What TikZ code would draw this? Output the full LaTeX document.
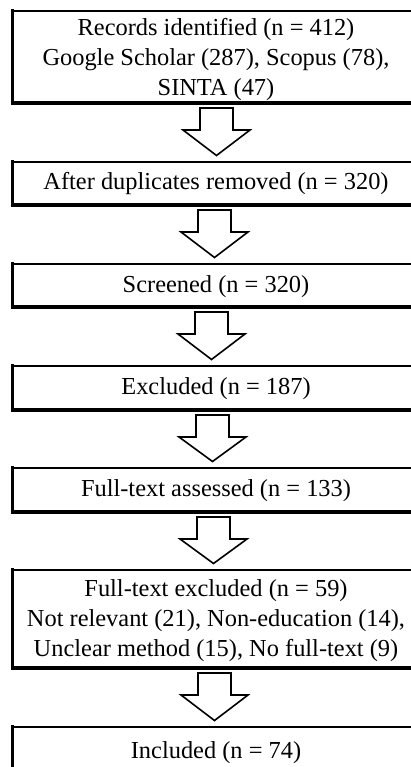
\documentclass[tikz,border=0pt]{standalone}
\usepackage{fontspec}
\setmainfont{Liberation Serif}
\usetikzlibrary{calc}

\tikzset{
  stagebox/.style={draw=black, line width=1.7pt, fill=white, rectangle,
    inner sep=0pt, outer sep=0pt, anchor=north west, minimum width=409pt},
  stagetext/.style={inner sep=0pt, anchor=base,
    font=\fontsize{24.4pt}{30pt}\selectfont},
  heavyedge/.style={line width=3.6pt, line cap=rect},
  blockarrow/.style={draw=black, fill=white, line width=1.6pt, line join=miter},
}

% hollow down arrow from the bottom of #1 to the top of #2, shifted by #3
\newcommand{\downblock}[3]{%
  \draw[blockarrow] let \p1=(#1.south), \p2=(#2.north) in
    (\x1+#3-16.5pt, \y1-5pt) -- (\x1+#3+16.5pt, \y1-5pt)
    -- (\x1+#3+16.5pt, \y1-27pt) -- (\x1+#3+33.5pt, \y1-27pt)
    -- (\x1+#3, \y2+6.5pt) -- (\x1+#3-33.5pt, \y1-27pt)
    -- (\x1+#3-16.5pt, \y1-27pt) -- cycle;}

% draws a stage box: name, top, bottom
\newcommand{\stage}[3]{%
  \node[stagebox, minimum height=#3pt-#2pt] (#1) at (12.5,#2) {};
  \draw[heavyedge] (#1.north west) -- (#1.south west) -- (#1.south east);}

\begin{document}
\begin{tikzpicture}[x=1pt, y=-1pt]
  \useasboundingbox (0,0) rectangle (411,767);
  \clip (0,0) rectangle (411,767);
  \fill[white] (0,0) rectangle (411,767);

  \stage{b1}{11}{103}
  \stage{b2}{162}{205}
  \stage{b3}{264}{307}
  \stage{b4}{366}{410}
  \stage{b5}{468}{512}
  \stage{b6}{570}{668}
  \stage{b7}{727}{800}

  \node[stagetext] (t1a) at (216,36) {Records identified (n = 412)};
  \node[stagetext] (t1b) at (216,66) {Google Scholar (287), Scopus (78),};
  \node[stagetext] (t1c) at (216,96) {SINTA (47)};

  \node[stagetext] (t2) at (216,190) {After duplicates removed (n = 320)};
  \node[stagetext] (t3) at (216,292) {Screened (n = 320)};
  \node[stagetext] (t4) at (216,394) {Excluded (n = 187)};
  \node[stagetext] (t5) at (216,496) {Full-text assessed (n = 133)};

  \node[stagetext] (t6a) at (216,596) {Full-text excluded (n = 59)};
  \node[stagetext] (t6b) at (216,626) {Not relevant (21), Non-education (14),};
  \node[stagetext] (t6c) at (216,656) {Unclear method (15), No full-text (9)};

  \node[stagetext] (t7) at (216,758) {Included (n = 74)};

  \downblock{b1}{b2}{-0.5pt}
  \downblock{b2}{b3}{-2.5pt}
  \downblock{b3}{b4}{-5.5pt}
  \downblock{b4}{b5}{-4.5pt}
  \downblock{b5}{b6}{-3.5pt}
  \downblock{b6}{b7}{-2.5pt}
\end{tikzpicture}
\end{document}
